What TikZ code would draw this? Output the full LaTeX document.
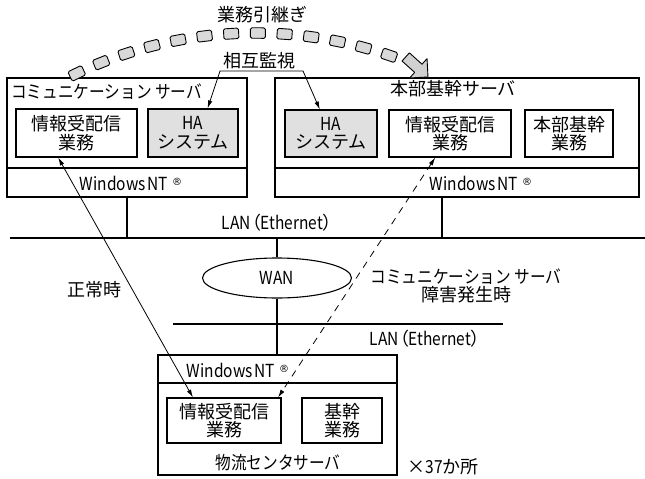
\documentclass[tikz,border=0pt]{standalone}
\usepackage{fontspec}
\setmainfont{Noto Sans CJK JP}
\newfontfamily\latn{Noto Sans CJK JP}[FakeStretch=0.86]
\newfontfamily\jpsq{Noto Sans CJK JP}[FakeStretch=0.87]
\newfontfamily\jpprop{Noto Sans CJK JP}[RawFeature=+palt]
\newfontfamily\regmark{DejaVu Sans}
\usetikzlibrary{arrows.meta,calc,shapes.geometric}

\newcommand\winnt{{\latn Windows\hspace{2pt}NT\hspace{4pt}\raisebox{5pt}{\regmark\fontsize{10}{10}\selectfont ®}}}
\newcommand\lanlabel{{\latn LAN\hspace{1pt}{\jpprop（}Ethernet{\jpprop）}}}

\tikzset{
  box/.style={draw, line width=1.1pt, inner sep=0pt},
  hafill/.style={fill=black!12},
  lbl/.style={font=\fontsize{18}{18.5}\selectfont, align=center, inner sep=0pt},
  wire/.style={line width=1.1pt},
  thinwire/.style={line width=0.8pt},
  tipboth/.style={{Latex[length=8pt,width=4.5pt]}-{Latex[length=8pt,width=4.5pt]}},
  sq/.style={draw, line width=0.9pt, fill=black!15, rounded corners=1.5pt,
             minimum width=15pt, minimum height=10.5pt, inner sep=0pt},
}

\begin{document}
\begin{tikzpicture}[x=1pt,y=-1pt]
\useasboundingbox (0,0) rectangle (645,479);

% ---- communication server ----
\node[box, minimum width=240pt, minimum height=119pt] (cs) at (127,137.5) {};
\draw[wire] (cs.west |- 0,168) -- (cs.east |- 0,168);
\node[lbl, anchor=west] (cstitle) at (11,92) {\jpsq コミュニケーション サーバ};
\node[box, lbl, minimum width=121pt, minimum height=48pt] (csinfo) at (76.5,133) {情報受配信\\業務};
\node[box, lbl, hafill, minimum width=90pt, minimum height=48pt] (csha) at (193,133) {{\latn HA}\\システム};
\node[lbl] (csnt) at (131,183) {\winnt};

% ---- head office server ----
\node[box, minimum width=364pt, minimum height=119pt] (hq) at (457,137.5) {};
\draw[wire] (hq.west |- 0,168) -- (hq.east |- 0,168);
\node[lbl] (hqtitle) at (453,89) {本部基幹サーバ};
\node[box, lbl, hafill, minimum width=92pt, minimum height=47pt] (hqha) at (331,133.5) {{\latn HA}\\システム};
\node[box, lbl, minimum width=122pt, minimum height=47pt] (hqinfo) at (450,133.5) {情報受配信\\業務};
\node[box, lbl, minimum width=88pt, minimum height=47pt] (hqbiz) at (569,133.5) {本部基幹\\業務};
\node[lbl] (hqnt) at (481,183) {\winnt};

% ---- upper LAN ----
\coordinate (lanAw) at (10,238);
\coordinate (lanAe) at (645,238);
\draw[wire] (lanAw) -- (lanAe);
\node[lbl] (lanAlbl) at (277,223) {\lanlabel};
\draw[wire] (cs.south) -- (cs.south |- lanAw);
\coordinate (hqdrop) at ($(hq.south)+(-15,0)$);
\draw[wire] (hqdrop) -- (hqdrop |- lanAw);

% ---- WAN ----
\node[box, ellipse, minimum width=149pt, minimum height=40pt, lbl] (wan) at (277,278) {\latn WAN};
\draw[wire] (wan.north) -- (wan.north |- lanAw);

% ---- lower LAN ----
\coordinate (lanBw) at (173,324);
\coordinate (lanBe) at (503,324);
\draw[wire] (lanBw) -- (lanBe);
\node[lbl] (lanBlbl) at (425,339) {\lanlabel};

% ---- distribution centre server ----
\node[box, minimum width=239pt, minimum height=120pt] (lc) at (277.5,415) {};
\draw[wire] (lc.west |- 0,383) -- (lc.east |- 0,383);
\node[lbl] (lcnt) at (238,370) {\winnt};
\node[box, lbl, minimum width=114pt, minimum height=45pt] (lcinfo) at (224,420.5) {情報受配信\\業務};
\node[box, lbl, minimum width=80pt, minimum height=45pt] (lcbiz) at (342,420.5) {基幹\\業務};
\node[lbl] (lctitle) at (278,463) {\jpsq 物流センタサーバ};
\node[lbl] (count) at (443,467) {×{\latn 37}か所};
\draw[wire] (wan.south) -- (wan.south |- lc.north);

% ---- traffic paths ----
\node[lbl] (normal) at (94,290) {正常時};
\node[lbl] (fail) at (466,286) {{\jpsq コミュニケーション サーバ}\\障害発生時};
\draw[thinwire, tipboth]
  ($(csinfo.south west)!0.35!(csinfo.south east)$) --
  ($(lcinfo.north west)!0.23!(lcinfo.north east)$);
\draw[thinwire, tipboth, dash pattern=on 7pt off 6pt]
  ($(hqinfo.south west)!0.38!(hqinfo.south east)$) --
  ($(lcinfo.north west)!0.97!(lcinfo.north east)$);

% ---- mutual monitoring ----
\node[lbl] (mon) at (259,61) {相互監視};
\coordinate (monL) at (220,71);
\coordinate (monR) at (303,71);
\draw[thinwire, tipboth]
  ($(csha.north west)!0.66!(csha.north east)$) -- (monL) -- (monR) --
  ($(hqha.north west)!0.38!(hqha.north east)$);

% ---- task handover arc ----
\node[lbl] (handover) at (262,15) {業務引継ぎ};
\coordinate (arcC) at (255,447);
\foreach \i in {0,...,12} {
  \pgfmathsetmacro\a{115.5-3.7*\i}
  \node[sq, rotate=\a-90] (sq\i) at ($(arcC)+(-\a:414)$) {};
}
\coordinate (hoTip) at (428,77);
\begin{scope}[shift={(hoTip)}, rotate=-42]
  \draw[line width=0.9pt, fill=black!18, line join=round]
    (0,0) -- (-13,-13) -- (-13,-5.5) -- (-30,-5.5) -- (-30,5.5) -- (-13,5.5) -- (-13,13) -- cycle;
\end{scope}
\end{tikzpicture}
\end{document}
